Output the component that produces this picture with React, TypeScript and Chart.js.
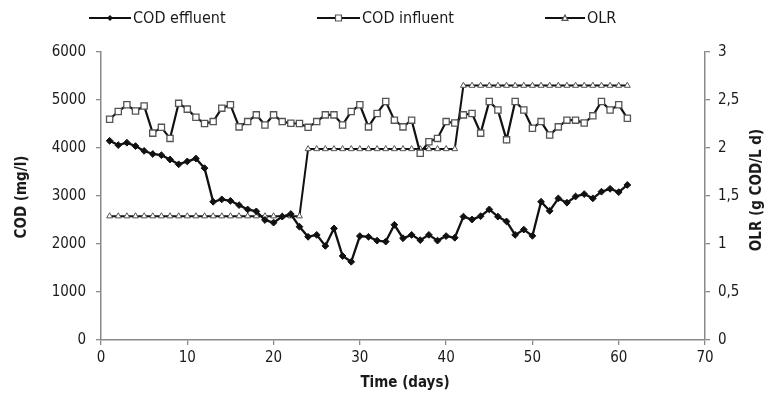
import React, { useEffect, useRef } from "react";
import { Chart, registerables } from "chart.js";

Chart.register(...registerables);

// ---- data ----
const days = [
  1, 2, 3, 4, 5, 6, 7, 8, 9, 10, 11, 12, 13, 14, 15, 16, 17, 18, 19, 20,
  21, 22, 23, 24, 25, 26, 27, 28, 29, 30, 31, 32, 33, 34, 35, 36, 37, 38, 39, 40,
  41, 42, 43, 44, 45, 46, 47, 48, 49, 50, 51, 52, 53, 54, 55, 56, 57, 58, 59, 60, 61,
];

const codEffluent = [
  4150, 4060, 4110, 4040, 3940, 3875, 3850, 3760, 3660, 3720,
  3780, 3580, 2880, 2930, 2900, 2810, 2720, 2680, 2500, 2445,
  2570, 2625, 2360, 2150, 2190, 1960, 2325, 1750, 1630, 2165,
  2150, 2070, 2050, 2400, 2120, 2190, 2080, 2190, 2070, 2165,
  2130, 2570, 2510, 2580, 2720, 2570, 2470, 2190, 2300, 2170,
  2880, 2690, 2950, 2860, 2990, 3040, 2950, 3090, 3150, 3080, 3230,
];

const codInfluent = [
  4600, 4760, 4900, 4770, 4875, 4310, 4430, 4200, 4930, 4810,
  4640, 4510, 4550, 4830, 4900, 4440, 4550, 4690, 4480, 4690,
  4550, 4515, 4510, 4430, 4550, 4690, 4690, 4480, 4760, 4900,
  4440, 4720, 4970, 4580, 4440, 4580, 3890, 4130, 4200, 4550,
  4520, 4690, 4720, 4310, 4970, 4790, 4170, 4970, 4790, 4410,
  4550, 4270, 4440, 4580, 4580, 4520, 4670, 4970, 4790, 4900, 4620,
];

const olr = [
  1.29, 1.29, 1.29, 1.29, 1.29, 1.29, 1.29, 1.29, 1.29, 1.29,
  1.29, 1.29, 1.29, 1.29, 1.29, 1.29, 1.29, 1.29, 1.29, 1.29,
  1.29, 1.29, 1.29, 1.99, 1.99, 1.99, 1.99, 1.99, 1.99, 1.99,
  1.99, 1.99, 1.99, 1.99, 1.99, 1.99, 1.99, 1.99, 1.99, 1.99,
  1.99, 2.65, 2.65, 2.65, 2.65, 2.65, 2.65, 2.65, 2.65, 2.65,
  2.65, 2.65, 2.65, 2.65, 2.65, 2.65, 2.65, 2.65, 2.65, 2.65, 2.65,
];

const xTicks = [0, 10, 20, 30, 40, 50, 60, 70];
const codTicks = [0, 1000, 2000, 3000, 4000, 5000, 6000];
const olrTicks = [0, 0.5, 1, 1.5, 2, 2.5, 3];

const seriesNames = ["COD effluent", "COD influent", "OLR"];
const xTitle = "Time (days)";
const leftTitle = "COD (mg/l)";
const rightTitle = "OLR (g COD/L d)";

// ---- layout / style ----
const W = 769;
const H = 405;
const PLOT_LEFT = 101;
const PLOT_RIGHT = 705;
const PLOT_TOP = 52;
const PLOT_BOTTOM = 340;
const FONT = '"Liberation Sans Narrow", "DejaVu Sans Condensed", Arial, sans-serif';
const TEXT = "#1a1a1a";
const AXIS = "#8a8a8a";
const LINE = "#111111";
const MARK = "#555555";

function drawMarker(ctx: CanvasRenderingContext2D, kind: string, x: number, y: number, r: number) {
  ctx.save();
  ctx.lineWidth = 1.2;
  ctx.beginPath();
  if (kind === "diamond") {
    ctx.moveTo(x, y - r);
    ctx.lineTo(x + r, y);
    ctx.lineTo(x, y + r);
    ctx.lineTo(x - r, y);
    ctx.closePath();
    ctx.fillStyle = LINE;
    ctx.fill();
  } else if (kind === "square") {
    ctx.rect(x - r, y - r, 2 * r, 2 * r);
    ctx.fillStyle = "#fff";
    ctx.fill();
    ctx.strokeStyle = MARK;
    ctx.stroke();
  } else {
    ctx.moveTo(x, y - r);
    ctx.lineTo(x + r, y + r * 0.8);
    ctx.lineTo(x - r, y + r * 0.8);
    ctx.closePath();
    ctx.fillStyle = "#fff";
    ctx.fill();
    ctx.strokeStyle = MARK;
    ctx.stroke();
  }
  ctx.restore();
}

const legendItems = [
  { name: seriesNames[0], x1: 89, x2: 131, tx: 133, kind: "diamond" },
  { name: seriesNames[1], x1: 317, x2: 360, tx: 362, kind: "square" },
  { name: seriesNames[2], x1: 545, x2: 585, tx: 587, kind: "triangle" },
];

const decorPlugin = {
  id: "decor",
  afterDraw(chart: any) {
    const ctx: CanvasRenderingContext2D = chart.ctx;
    ctx.save();
    // legend
    const ly = 18;
    ctx.font = `16px ${FONT}`;
    ctx.textBaseline = "middle";
    ctx.textAlign = "left";
    for (const it of legendItems) {
      ctx.strokeStyle = LINE;
      ctx.lineWidth = 2;
      ctx.beginPath();
      ctx.moveTo(it.x1, ly);
      ctx.lineTo(it.x2, ly);
      ctx.stroke();
      drawMarker(ctx, it.kind, (it.x1 + it.x2) / 2, ly, 3);
      ctx.fillStyle = TEXT;
      ctx.fillText(it.name, it.tx, ly + 1);
    }
    // axis titles
    ctx.font = `bold 15px ${FONT}`;
    ctx.fillStyle = TEXT;
    ctx.textAlign = "center";
    ctx.textBaseline = "middle";
    ctx.fillText(xTitle, 405, 383);
    ctx.save();
    ctx.translate(22, 197);
    ctx.rotate(-Math.PI / 2);
    ctx.fillText(leftTitle, 0, 0);
    ctx.restore();
    ctx.save();
    ctx.translate(757, 190);
    ctx.rotate(-Math.PI / 2);
    ctx.fillText(rightTitle, 0, 0);
    ctx.restore();
    ctx.restore();
  },
};

export default function App() {
  const ref = useRef<HTMLCanvasElement | null>(null);

  useEffect(() => {
    if (!ref.current) return;
    const tickFont = { family: FONT, size: 15 };
    const chart = new Chart(ref.current, {
      type: "line",
      data: {
        datasets: [
          {
            label: seriesNames[0],
            data: days.map((d, i) => ({ x: d, y: codEffluent[i] })),
            yAxisID: "y",
            borderColor: LINE,
            borderWidth: 2.3,
            pointStyle: "rectRot",
            pointRadius: 3.4,
            pointBackgroundColor: LINE,
            pointBorderColor: LINE,
            pointBorderWidth: 1,
            tension: 0,
          },
          {
            label: seriesNames[1],
            data: days.map((d, i) => ({ x: d, y: codInfluent[i] })),
            yAxisID: "y",
            borderColor: LINE,
            borderWidth: 2.2,
            pointStyle: "rect",
            pointRadius: 4.4,
            pointBackgroundColor: "#ffffff",
            pointBorderColor: MARK,
            pointBorderWidth: 1.3,
            tension: 0,
          },
          {
            label: seriesNames[2],
            data: days.map((d, i) => ({ x: d, y: olr[i] })),
            yAxisID: "y1",
            borderColor: LINE,
            borderWidth: 2,
            pointStyle: "triangle",
            pointRadius: 3.4,
            pointBackgroundColor: "#ffffff",
            pointBorderColor: MARK,
            pointBorderWidth: 1,
            tension: 0,
          },
        ],
      },
      options: {
        animation: false,
        responsive: true,
        maintainAspectRatio: false,
        layout: { padding: { top: PLOT_TOP, left: 0, right: 0, bottom: 0 } },
        plugins: {
          legend: { display: false },
          tooltip: { enabled: false },
          title: { display: false },
        },
        scales: {
          x: {
            type: "linear",
            min: 0,
            max: 70,
            afterBuildTicks: (s: any) => {
              s.ticks = xTicks.map((v) => ({ value: v }));
            },
            afterFit: (s: any) => {
              s.height = H - PLOT_BOTTOM;
            },
            ticks: { font: tickFont, color: TEXT, padding: 4, maxRotation: 0, callback: (v: any) => String(v) },
            grid: { drawOnChartArea: false, drawTicks: true, tickLength: 5, color: AXIS, lineWidth: 1.3 },
            border: { color: AXIS, width: 1.5 },
          },
          y: {
            type: "linear",
            position: "left",
            min: 0,
            max: 6000,
            afterBuildTicks: (s: any) => {
              s.ticks = codTicks.map((v) => ({ value: v }));
            },
            afterFit: (s: any) => {
              s.width = PLOT_LEFT;
            },
            ticks: { font: tickFont, color: TEXT, padding: 10, callback: (v: any) => String(v) },
            grid: { drawOnChartArea: false, drawTicks: true, tickLength: 5, color: AXIS, lineWidth: 1.3 },
            border: { color: AXIS, width: 1.5 },
          },
          y1: {
            type: "linear",
            position: "right",
            min: 0,
            max: 3,
            afterBuildTicks: (s: any) => {
              s.ticks = olrTicks.map((v) => ({ value: v }));
            },
            afterFit: (s: any) => {
              s.width = W - PLOT_RIGHT;
            },
            ticks: {
              font: tickFont,
              color: TEXT,
              padding: 8,
              callback: (v: any) => String(v).replace(".", ","),
            },
            grid: { drawOnChartArea: false, drawTicks: true, tickLength: 5, color: AXIS, lineWidth: 1.3 },
            border: { color: AXIS, width: 1.5 },
          },
        },
      },
      plugins: [decorPlugin],
    });
    return () => chart.destroy();
  }, []);

  return (
    <div style={{ position: "fixed", left: 0, top: 0, width: W, height: H, background: "#fff" }}>
      <canvas ref={ref} width={W} height={H} />
    </div>
  );
}
